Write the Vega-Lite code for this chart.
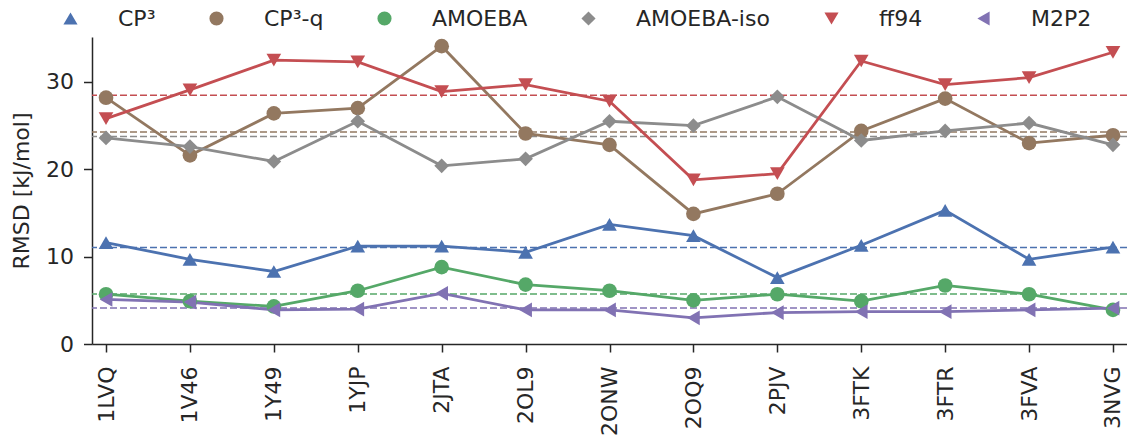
{
  "$schema": "https://vega.github.io/schema/vega-lite/v6.json",
  "width": 1035,
  "height": 307,
  "autosize": {"type": "none"},
  "padding": {"left": 92, "top": 37, "right": 0, "bottom": 94},
  "background": "white",
  "config": {
    "view": {"stroke": null},
    "font": "DejaVu Sans",
    "axis": {
      "domainColor": "#262626",
      "domainWidth": 1.5,
      "tickColor": "#262626",
      "tickWidth": 1.5,
      "grid": false,
      "labelFont": "DejaVu Sans",
      "labelFontSize": 22,
      "labelColor": "#262626",
      "titleFont": "DejaVu Sans",
      "titleFontSize": 22,
      "titleFontWeight": "normal",
      "titleColor": "#262626"
    },
    "legend": {
      "orient": "none",
      "legendX": -32.5,
      "legendY": -29.5,
      "direction": "horizontal",
      "columns": 6,
      "padding": 0,
      "labelFont": "DejaVu Sans",
      "labelFontSize": 22,
      "labelColor": "#262626",
      "symbolSize": 200,
      "labelOffset": 36.5,
      "columnPadding": 50,
      "symbolStrokeWidth": 0,
      "symbolOpacity": 1
    }
  },
  "data": {
    "values": [
      {"pdb": "1LVQ", "model": "CP³", "rmsd": 11.6},
      {"pdb": "1V46", "model": "CP³", "rmsd": 9.7},
      {"pdb": "1Y49", "model": "CP³", "rmsd": 8.3},
      {"pdb": "1YJP", "model": "CP³", "rmsd": 11.2},
      {"pdb": "2JTA", "model": "CP³", "rmsd": 11.2},
      {"pdb": "2OL9", "model": "CP³", "rmsd": 10.5},
      {"pdb": "2ONW", "model": "CP³", "rmsd": 13.7},
      {"pdb": "2OQ9", "model": "CP³", "rmsd": 12.4},
      {"pdb": "2PJV", "model": "CP³", "rmsd": 7.6},
      {"pdb": "3FTK", "model": "CP³", "rmsd": 11.3},
      {"pdb": "3FTR", "model": "CP³", "rmsd": 15.3},
      {"pdb": "3FVA", "model": "CP³", "rmsd": 9.7},
      {"pdb": "3NVG", "model": "CP³", "rmsd": 11.1},
      {"pdb": "1LVQ", "model": "CP³-q", "rmsd": 28.2},
      {"pdb": "1V46", "model": "CP³-q", "rmsd": 21.6},
      {"pdb": "1Y49", "model": "CP³-q", "rmsd": 26.4},
      {"pdb": "1YJP", "model": "CP³-q", "rmsd": 27.0},
      {"pdb": "2JTA", "model": "CP³-q", "rmsd": 34.1},
      {"pdb": "2OL9", "model": "CP³-q", "rmsd": 24.1},
      {"pdb": "2ONW", "model": "CP³-q", "rmsd": 22.8},
      {"pdb": "2OQ9", "model": "CP³-q", "rmsd": 14.9},
      {"pdb": "2PJV", "model": "CP³-q", "rmsd": 17.2},
      {"pdb": "3FTK", "model": "CP³-q", "rmsd": 24.4},
      {"pdb": "3FTR", "model": "CP³-q", "rmsd": 28.1},
      {"pdb": "3FVA", "model": "CP³-q", "rmsd": 23.0},
      {"pdb": "3NVG", "model": "CP³-q", "rmsd": 23.9},
      {"pdb": "1LVQ", "model": "AMOEBA", "rmsd": 5.7},
      {"pdb": "1V46", "model": "AMOEBA", "rmsd": 4.9},
      {"pdb": "1Y49", "model": "AMOEBA", "rmsd": 4.3},
      {"pdb": "1YJP", "model": "AMOEBA", "rmsd": 6.1},
      {"pdb": "2JTA", "model": "AMOEBA", "rmsd": 8.8},
      {"pdb": "2OL9", "model": "AMOEBA", "rmsd": 6.8},
      {"pdb": "2ONW", "model": "AMOEBA", "rmsd": 6.1},
      {"pdb": "2OQ9", "model": "AMOEBA", "rmsd": 5.0},
      {"pdb": "2PJV", "model": "AMOEBA", "rmsd": 5.7},
      {"pdb": "3FTK", "model": "AMOEBA", "rmsd": 4.9},
      {"pdb": "3FTR", "model": "AMOEBA", "rmsd": 6.7},
      {"pdb": "3FVA", "model": "AMOEBA", "rmsd": 5.7},
      {"pdb": "3NVG", "model": "AMOEBA", "rmsd": 3.9},
      {"pdb": "1LVQ", "model": "AMOEBA-iso", "rmsd": 23.6},
      {"pdb": "1V46", "model": "AMOEBA-iso", "rmsd": 22.6},
      {"pdb": "1Y49", "model": "AMOEBA-iso", "rmsd": 20.9},
      {"pdb": "1YJP", "model": "AMOEBA-iso", "rmsd": 25.5},
      {"pdb": "2JTA", "model": "AMOEBA-iso", "rmsd": 20.4},
      {"pdb": "2OL9", "model": "AMOEBA-iso", "rmsd": 21.2},
      {"pdb": "2ONW", "model": "AMOEBA-iso", "rmsd": 25.5},
      {"pdb": "2OQ9", "model": "AMOEBA-iso", "rmsd": 25.0},
      {"pdb": "2PJV", "model": "AMOEBA-iso", "rmsd": 28.3},
      {"pdb": "3FTK", "model": "AMOEBA-iso", "rmsd": 23.3},
      {"pdb": "3FTR", "model": "AMOEBA-iso", "rmsd": 24.4},
      {"pdb": "3FVA", "model": "AMOEBA-iso", "rmsd": 25.3},
      {"pdb": "3NVG", "model": "AMOEBA-iso", "rmsd": 22.8},
      {"pdb": "1LVQ", "model": "ff94", "rmsd": 25.8},
      {"pdb": "1V46", "model": "ff94", "rmsd": 29.1},
      {"pdb": "1Y49", "model": "ff94", "rmsd": 32.5},
      {"pdb": "1YJP", "model": "ff94", "rmsd": 32.3},
      {"pdb": "2JTA", "model": "ff94", "rmsd": 28.9},
      {"pdb": "2OL9", "model": "ff94", "rmsd": 29.7},
      {"pdb": "2ONW", "model": "ff94", "rmsd": 27.8},
      {"pdb": "2OQ9", "model": "ff94", "rmsd": 18.8},
      {"pdb": "2PJV", "model": "ff94", "rmsd": 19.5},
      {"pdb": "3FTK", "model": "ff94", "rmsd": 32.4},
      {"pdb": "3FTR", "model": "ff94", "rmsd": 29.7},
      {"pdb": "3FVA", "model": "ff94", "rmsd": 30.5},
      {"pdb": "3NVG", "model": "ff94", "rmsd": 33.4},
      {"pdb": "1LVQ", "model": "M2P2", "rmsd": 5.1},
      {"pdb": "1V46", "model": "M2P2", "rmsd": 4.8},
      {"pdb": "1Y49", "model": "M2P2", "rmsd": 3.9},
      {"pdb": "1YJP", "model": "M2P2", "rmsd": 4.0},
      {"pdb": "2JTA", "model": "M2P2", "rmsd": 5.8},
      {"pdb": "2OL9", "model": "M2P2", "rmsd": 3.9},
      {"pdb": "2ONW", "model": "M2P2", "rmsd": 3.9},
      {"pdb": "2OQ9", "model": "M2P2", "rmsd": 3.0},
      {"pdb": "2PJV", "model": "M2P2", "rmsd": 3.6},
      {"pdb": "3FTK", "model": "M2P2", "rmsd": 3.7},
      {"pdb": "3FTR", "model": "M2P2", "rmsd": 3.7},
      {"pdb": "3FVA", "model": "M2P2", "rmsd": 3.9},
      {"pdb": "3NVG", "model": "M2P2", "rmsd": 4.1}
    ]
  },
  "layer": [
    {
      "mark": {"type": "rule", "strokeDash": [7, 3], "strokeWidth": 1.5},
      "encoding": {
        "y": {
          "aggregate": "mean",
          "field": "rmsd",
          "type": "quantitative",
          "scale": {"domain": [0, 35.15], "nice": false, "zero": true},
          "axis": {"values": [0, 10, 20, 30], "title": "RMSD [kJ/mol]", "tickSize": 8.5, "labelPadding": 10, "titlePadding": 12}
        },
        "color": {
          "field": "model",
          "type": "nominal",
          "scale": {
            "domain": ["CP³", "CP³-q", "AMOEBA", "AMOEBA-iso", "ff94", "M2P2"],
            "range": ["#4C72B0", "#937860", "#55A868", "#8C8C8C", "#C44E52", "#8172B3"]
          },
          "legend": {"title": null}
        }
      }
    },
    {
      "mark": {"type": "line", "strokeWidth": 2.8},
      "encoding": {
        "x": {
          "field": "pdb",
          "type": "ordinal",
          "sort": ["1LVQ", "1V46", "1Y49", "1YJP", "2JTA", "2OL9", "2ONW", "2OQ9", "2PJV", "3FTK", "3FTR", "3FVA", "3NVG"],
          "scale": {"type": "point", "padding": 0.167},
          "axis": {"title": null, "labelAngle": -90, "tickSize": 8, "labelPadding": 14}
        },
        "y": {
          "field": "rmsd",
          "type": "quantitative",
          "axis": {"values": [0, 10, 20, 30], "title": "RMSD [kJ/mol]", "tickSize": 8.5, "labelPadding": 10, "titlePadding": 12}
        },
        "color": {"field": "model", "type": "nominal", "legend": {"title": null}}
      }
    },
    {
      "mark": {"type": "point", "filled": true, "opacity": 1, "size": 215},
      "encoding": {
        "x": {
          "field": "pdb",
          "type": "ordinal",
          "sort": ["1LVQ", "1V46", "1Y49", "1YJP", "2JTA", "2OL9", "2ONW", "2OQ9", "2PJV", "3FTK", "3FTR", "3FVA", "3NVG"]
        },
        "y": {"field": "rmsd", "type": "quantitative"},
        "shape": {
          "field": "model",
          "type": "nominal",
          "scale": {
            "domain": ["CP³", "CP³-q", "AMOEBA", "AMOEBA-iso", "ff94", "M2P2"],
            "range": ["triangle-up", "circle", "circle", "diamond", "triangle-down", "triangle-left"]
          },
          "legend": {"title": null}
        },
        "color": {"field": "model", "type": "nominal", "legend": {"title": null}}
      }
    }
  ]
}
